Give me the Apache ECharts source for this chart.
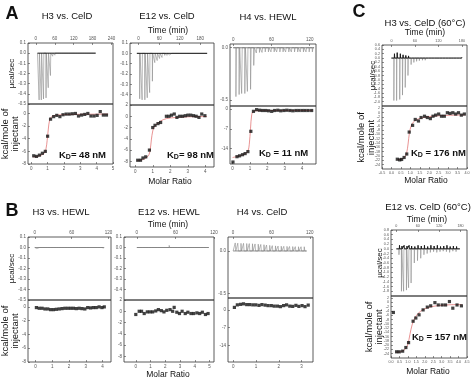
<!DOCTYPE html>
<html><head><meta charset="utf-8">
<script src="https://cdn.jsdelivr.net/npm/echarts@6/dist/echarts.min.js"></script>
<style>html,body{margin:0;padding:0;background:#fff}#c{width:474px;height:378px}</style>
</head><body><div id="c"></div>
<script>
// ---------------- DATA ----------------
// A1: H3 vs. CelD
const a1Time = [10,17,24,32,39,46,53,60,68,75,82,89,96,104,111,118,125,132,140,147,154,161,168,176,183];
const a1Peak = [-0.46,-0.46,-0.45,-0.44,-0.34,-0.22,-0.03,-0.02,-0.015,-0.015,-0.01,-0.01,-0.01,-0.01,-0.01,-0.008,-0.008,-0.008,-0.008,-0.008,-0.008,-0.008,-0.008,-0.008,-0.008];
const a1Base = [5,190];
const a1Ratio = [0.15,0.32,0.5,0.68,0.86,1.0,1.18,1.37,1.56,1.75,1.94,2.13,2.32,2.51,2.7,2.89,3.08,3.27,3.46,3.65,3.84,4.03,4.22,4.41,4.6];
const a1Heat = [-6.7,-6.8,-6.6,-6.3,-6.0,-3.6,-0.9,-0.5,-0.3,-0.5,-0.2,-0.1,-0.1,-0.05,0.0,-0.4,-0.25,-0.15,0.0,-0.4,-0.4,-0.3,0.3,-0.25,-0.25];
const a1FitX = [0.1,0.5,0.8,0.9,0.97,1.05,1.12,1.25,1.6,2.5,4.7];
const a1FitY = [-6.9,-6.7,-6.3,-5.6,-4.3,-2.3,-1.1,-0.5,-0.25,-0.15,-0.1];
// A2: E12 vs. CelD
const a2Time = [3,10,18,25,32,40,47,54,61,68,76,83,90,97,104,112,119,126,133,140,148,155,162,169];
const a2Peak = [-0.44,-0.45,-0.45,-0.43,-0.38,-0.27,-0.09,-0.07,-0.05,-0.04,-0.02,-0.02,-0.015,-0.01,-0.01,-0.01,-0.01,-0.01,-0.01,-0.01,-0.01,-0.01,-0.01,-0.01];
const a2Base = [-5,200];
const a2Ratio = [0.14,0.3,0.44,0.6,0.81,1.0,1.13,1.3,1.45,1.78,1.93,2.07,2.23,2.38,2.54,2.7,2.86,3.01,3.17,3.33,3.48,3.64,3.8,3.98];
const a2Heat = [-7.8,-7.8,-7.4,-7.2,-6.0,-2.0,-1.6,-1.3,-1.1,0.0,0.0,0.2,0.4,-0.2,0.0,0.0,0.1,0.2,0.2,0.1,0.0,-0.2,0.4,0.1];
const a2FitX = [0.1,0.5,0.75,0.85,0.92,1.0,1.1,1.3,1.6,2.0,3.0,4.1];
const a2FitY = [-7.9,-7.6,-7.0,-6.0,-4.2,-2.6,-1.8,-1.2,-0.6,-0.3,-0.1,-0.05];
// A3: H4 vs. HEWL
const a3Time = [4,9,13,18,22,27,32,36,41,45,50,55,59,64,68,73,78,82,87,91,96,101,105,110,114,119,124];
const a3Peak = [-0.47,-0.45,-0.44,-0.44,-0.42,-0.40,-0.17,-0.05,-0.045,-0.045,-0.04,-0.04,-0.04,-0.04,-0.04,-0.04,-0.04,-0.04,-0.04,-0.04,-0.04,-0.04,-0.04,-0.04,-0.04,-0.04,-0.04];
const a3Base = [0,127];
const a3Ratio = [0.02,0.25,0.4,0.57,0.72,0.88,1.05,1.2,1.38,1.55,1.72,1.9,2.07,2.25,2.42,2.6,2.77,2.95,3.12,3.3,3.47,3.65,3.82,4.0,4.17,4.35,4.55];
const a3Heat = [-18.8,-16.9,-16.6,-16.2,-15.8,-15.1,-7.9,-0.8,-0.2,-0.4,-0.5,-0.5,-0.6,-0.8,-0.5,-0.4,-0.6,-0.5,-0.4,-0.5,-0.6,-0.5,-0.5,-0.5,-0.5,-0.5,-0.5];
const a3FitX = [0,0.4,0.75,0.88,0.96,1.03,1.1,1.2,1.5,4.6];
const a3FitY = [-17.2,-16.6,-15.8,-15.0,-12.5,-7,-2,-0.8,-0.55,-0.5];
// B1: H3 vs. HEWL
const b1Time = [3,8,12,17,21,26,30,35,39,44,48,53,57,62,66,71,75,80,84,89,93,98,102,107,111];
const b1Peak = [-0.01,-0.01,-0.01,-0.01,-0.01,-0.01,-0.01,-0.01,-0.01,-0.01,-0.01,-0.01,-0.01,-0.01,-0.01,-0.01,-0.01,-0.01,-0.01,-0.01,-0.01,-0.01,-0.01,-0.01,-0.01];
const b1Base = [0,113];
const b1Ratio = [0.05,0.22,0.39,0.56,0.73,0.9,1.07,1.24,1.41,1.58,1.75,1.92,2.09,2.26,2.43,2.6,2.77,2.94,3.11,3.28,3.45,3.62,3.79,3.96,4.1];
const b1Heat = [-0.1,-0.2,-0.2,-0.3,-0.3,-0.4,-0.4,-0.35,-0.3,-0.25,-0.2,-0.2,-0.2,-0.2,-0.25,-0.2,-0.25,-0.3,-0.1,-0.15,-0.1,-0.1,0.0,-0.1,0.0];
// B2: E12 vs. HEWL
const b2Time = [5,9,14,18,23,27,32,36,41,45,50,54,59,63,68,72,77,81,86,90,95,99,104,108];
const b2Peak = [0.015,0.016,0.018,0.016,0.015,0.018,0.016,0.016,0.017,0.018,0.02,0.016,0.008,0.005,0.004,0.004,0.003,0.003,0.003,0.003,0.003,0.003,0.003,0.003];
const b2Base = [0,112];
const b2Ratio = [0.0,0.23,0.39,0.57,0.78,0.96,1.14,1.35,1.53,1.73,1.91,2.1,2.32,2.5,2.6,2.78,2.96,3.14,3.35,3.53,3.74,3.92,4.14,4.33,4.51,4.72,4.9];
const b2Heat = [-0.57,0,0,-0.4,-0.11,-0.11,-0.11,0.06,0.29,0.11,-0.11,0.17,0.29,0,0.69,-0.17,-0.4,0,-0.4,-0.17,-0.4,-0.4,-0.29,-0.4,-0.17,-0.57,-0.4];
// B3: H4 vs. CelD
const b3Time = [3,7,12,16,21,25,30,34,39,43,48,52,57,61,66,70,75,79,84,88,93,97,102,106,111];
const b3Peak = [0.095,0.092,0.09,0.09,0.088,0.087,0.085,0.083,0.08,0.077,0.074,0.07,0.066,0.063,0.06,0.058,0.056,0.055,0.054,0.053,0.052,0.051,0.05,0.05,0.05];
const b3Base = [0,115];
const b3Ratio = [0.05,0.18,0.32,0.45,0.59,0.72,0.86,0.99,1.13,1.26,1.4,1.53,1.67,1.8,1.94,2.07,2.21,2.34,2.48,2.61,2.75,2.88,3.02,3.15,3.29];
const b3Heat = [1.0,2.0,2.2,2.4,2.1,2.1,2.0,2.0,1.8,2.1,1.9,1.7,1.7,1.5,1.5,1.3,1.7,2.0,1.5,1.4,1.8,1.4,1.7,1.3,1.9];
// C1: H3 vs. CelD (60°C)
const c1Time = [6,13,21,28,35,42,50,57,64,71,79,86,93,100,108,115,122,129,137,144,151,158,165,172,178];
const c1Peak = [-1.95,-1.95,-1.9,-1.7,-1.35,-0.8,-0.3,-0.2,-0.15,-0.12,-0.1,-0.1,-0.08,-0.08,-0.06,-0.06,-0.05,-0.05,-0.05,-0.05,-0.05,-0.05,-0.05,-0.05,-0.05];
const c1Up = [0.2,0.25,0.2,0.15,0.12,0.1,0.08,0.08,0.06,0.05,0.05,0.05,0.05,0.04,0.04,0.04,0.04,0.04,0.04,0.04,0.04,0.04,0.04,0.04,0.04];
const c1Base = [0,180];
const c1Ratio = [0.31,0.44,0.54,0.67,0.81,0.94,1.12,1.26,1.43,1.57,1.75,1.9,2.06,2.2,2.34,2.5,2.65,2.8,2.96,3.1,3.25,3.4,3.55,3.7,3.86];
const c1Heat = [-21.5,-21.8,-21.6,-20.7,-19.1,-9.0,-5.9,-3.2,-3.9,-2.3,-1.7,-2.3,-2.8,-1.7,-1.2,-0.7,-1.7,-1.7,-0.1,-0.4,-0.1,-0.7,-0.1,-1.2,-0.7];
const c1FitX = [0.3,0.55,0.7,0.8,0.88,0.95,1.03,1.15,1.35,1.7,2.3,3.0,3.9];
const c1FitY = [-21.7,-21.4,-20.6,-18.8,-14.5,-9.5,-6.5,-4.5,-3.2,-2.3,-1.6,-1.3,-1.1];
// C2: E12 vs. CelD (60°C)
const c2Time = [7,14,20,28,34,41,50,59,68,77,86,95,104,113,122,131,140,149,158,167];
const c2Peak = [-0.25,-1.8,-1.8,-1.75,-1.65,-1.45,-0.6,-0.5,-0.4,-0.25,-0.2,-0.15,-0.12,-0.15,-0.12,-0.1,-0.12,-0.15,-0.1,-0.12];
const c2Up = [0.15,0.12,0.15,0.12,0.15,0.12,0.1,0.15,0.12,0.15,0.1,0.15,0.12,0.15,0.1,0.12,0.15,0.1,0.12,0.1];
const c2Base = [0,178];
const c2Ratio = [0.14,0.33,0.49,0.69,0.88,1.04,1.31,1.47,1.66,1.9,2.15,2.35,2.6,2.8,3.03,3.23,3.46,3.66,3.91,4.17];
const c2Heat = [-4.7,-23.1,-23.1,-22.8,-21.1,-18.8,-8.8,-7.3,-5.8,-3.5,-2.2,-1.6,-0.1,-1.2,-1.2,-1.2,0.4,-2.7,-1.2,-1.6];
const c2FitX = [0.3,0.6,0.85,1.0,1.12,1.25,1.4,1.6,1.9,2.3,2.8,3.5,4.2];
const c2FitY = [-23.3,-23.0,-21.8,-19.5,-15,-10.5,-7.5,-5.2,-3.4,-2.2,-1.5,-1.1,-1.0];

// tick labels
const timeTicks240 = [0,60,120,180,240];
const timeTicks180 = [0,60,120,180];
const timeTicks120 = [0,60,120];
const rawTicksA = [0.1,0.0,-0.1,-0.2,-0.3,-0.4,-0.5];
const rawTicksA2 = [0.1,0.0,-0.1,-0.2,-0.3,-0.4];
const rawTicksH4 = [0.0,-0.5];
const rawTicksC1 = [0.6,0.4,0.2,0.0,-0.2,-0.4,-0.6,-0.8,-1.0,-1.2,-1.4,-1.6,-1.8,-2.0];
const rawTicksC2 = [0.8,0.6,0.4,0.2,0.0,-0.2,-0.4,-0.6,-0.8,-1.0,-1.2,-1.4,-1.6,-1.8];
const ratioTicks5 = [0,1,2,3,4,5];
const ratioTicks4 = [0,1,2,3,4];
const ratioTicks3 = [0,1,2,3];
const ratioTicksC1 = [-0.5,0.0,0.5,1.0,1.5,2.0,2.5,3.0,3.5,4.0];
const ratioTicksC2 = [0.0,0.5,1.0,1.5,2.0,2.5,3.0,3.5,4.0,4.5];
const heatTicks8 = [0,-2,-4,-6,-8];
const heatTicks8b = [2,0,-2,-4,-6,-8];
const heatTicks14 = [0,-7,-14];
const heatTicksC = [2,0,-2,-4,-6,-8,-10,-12,-14,-16,-18,-20,-22,-24];

// ---------------- BUILD ----------------
const FONT = '"Liberation Sans", Arial, Helvetica, sans-serif';
const grid = [], xAxis = [], yAxis = [], series = [], title = [];

function axis(gi, pos, range, ticks, dec, fs, extra) {
  return Object.assign({
    type: 'value', gridIndex: gi, position: pos, min: range[0], max: range[1],
    axisLine: { show: false, onZero: false },
    splitLine: { show: false },
    axisTick: { show: true, inside: true, length: 2, customValues: ticks, lineStyle: { color: '#444', width: 0.6 } },
    axisLabel: { show: true, customValues: ticks, fontSize: fs, color: '#555', margin: 2, fontFamily: FONT,
      formatter: v => dec ? Number(v).toFixed(dec) : String(Math.round(v)) }
  }, extra || {});
}
function zip(xs, ys) { return xs.map((x, i) => [x, ys[i]]); }
function spikes(times, peaks, base) {
  const d = [[base[0], 0]];
  times.forEach((t, i) => { d.push([t, 0], [t + 0.3, peaks[i]], [t + 1.2, 0]); });
  d.push([base[1], 0]);
  return d;
}
function baseline(times, ups, base) {
  const d = [[base[0], 0]];
  if (ups) times.forEach((t, i) => { d.push([t + 1.4, 0], [t + 1.8, ups[i]], [t + 2.4, 0]); });
  d.push([base[1], 0]);
  return d;
}

function addPanel(p) {
  const [L, R, T, M, B] = p.box;
  const fs = p.fs || 4.5;
  const gi = grid.length;
  const gs = { show: true, borderColor: '#333', borderWidth: 0.8, backgroundColor: 'transparent', containLabel: false, outerBoundsMode: 'none' };
  grid.push(Object.assign({ left: L, top: T, width: R - L, height: M - T }, gs));
  grid.push(Object.assign({ left: L, top: M, width: R - L, height: B - M }, gs));
  xAxis.push(axis(gi, 'top', p.time, p.timeTicks, 0, fs));
  yAxis.push(axis(gi, 'left', p.raw, p.rawTicks, p.rawDec, fs, p.yTopName ? {
    name: p.yTopName, nameLocation: 'middle', nameRotate: 90, nameGap: p.gapTop, nameMoveOverlap: false,
    nameTextStyle: { fontSize: 8, color: '#111', fontFamily: FONT } } : {}));
  xAxis.push(axis(gi + 1, 'bottom', p.ratio, p.ratioTicks, p.ratioDec, fs));
  yAxis.push(axis(gi + 1, 'left', p.heat, p.heatTicks, 0, fs, p.yBotName ? {
    name: p.yBotName, nameLocation: 'middle', nameRotate: 90, nameGap: p.gapBot, nameMoveOverlap: false,
    nameTextStyle: { fontSize: 9.5, lineHeight: 10, color: '#111', fontFamily: FONT } } : {}));
  series.push({ type: 'line', xAxisIndex: gi, yAxisIndex: gi, data: spikes(p.times, p.peaks, p.base),
    symbol: 'none', lineStyle: { color: '#8c8c8c', width: 0.6 }, silent: true, z: 2 });
  series.push({ type: 'line', xAxisIndex: gi, yAxisIndex: gi, data: baseline(p.times, p.ups, p.base),
    symbol: 'none', lineStyle: { color: p.baseColor || '#1a1a1a', width: p.baseWidth || 1 }, silent: true, z: 3 });
  if (p.fitX) series.push({ type: 'line', xAxisIndex: gi + 1, yAxisIndex: gi + 1, data: zip(p.fitX, p.fitY),
    symbol: 'none', smooth: 0.35, lineStyle: { color: '#e06666', width: 0.7 }, silent: true, z: 3 });
  series.push({ type: 'scatter', xAxisIndex: gi + 1, yAxisIndex: gi + 1, data: zip(p.ratioX, p.heatY),
    symbol: 'rect', symbolSize: 3.2, itemStyle: { color: '#111' }, silent: true, z: 4 });
}

addPanel({ box: [28,113,43,104,164], time: [-25,245], timeTicks: timeTicks240, raw: [-0.5,0.1], rawTicks: rawTicksA, rawDec: 1,
  ratio: [-0.2,5.0], ratioTicks: ratioTicks5, heat: [-8,1.5], heatTicks: heatTicks8,
  times: a1Time, peaks: a1Peak, base: a1Base, ratioX: a1Ratio, heatY: a1Heat, fitX: a1FitX, fitY: a1FitY,
  yTopName: 'µcal/sec', gapTop: 12, yBotName: 'kcal/mole of\ninjectant', gapBot: 8 });
addPanel({ box: [130,214,43,105,167], time: [-25,220], timeTicks: timeTicks180, raw: [-0.5,0.1], rawTicks: rawTicksA2, rawDec: 1,
  ratio: [-0.3,4.5], ratioTicks: ratioTicks4, heat: [-9,2], heatTicks: heatTicks8b,
  times: a2Time, peaks: a2Peak, base: a2Base, ratioX: a2Ratio, heatY: a2Heat, fitX: a2FitX, fitY: a2FitY });
addPanel({ box: [230,316,44,106,164], time: [-5,130], timeTicks: timeTicks120, raw: [-0.56,0.036], rawTicks: rawTicksH4, rawDec: 1,
  ratio: [-0.15,4.8], ratioTicks: ratioTicks4, heat: [-19.5,1.1], heatTicks: heatTicks14,
  times: a3Time, peaks: a3Peak, base: a3Base, ratioX: a3Ratio, heatY: a3Heat, fitX: a3FitX, fitY: a3FitY,
  baseColor: '#666', baseWidth: 0.8 });
addPanel({ box: [28,111,237,300,362], time: [-11,124], timeTicks: timeTicks120, raw: [-0.5,0.1], rawTicks: rawTicksA, rawDec: 1,
  ratio: [-0.45,4.5], ratioTicks: ratioTicks4, heat: [-8,1], heatTicks: heatTicks8,
  times: b1Time, peaks: b1Peak, base: b1Base, ratioX: b1Ratio, heatY: b1Heat,
  baseColor: '#777', baseWidth: 0.8,
  yTopName: 'µcal/sec', gapTop: 12, yBotName: 'kcal/mole of\ninjectant', gapBot: 8 });
addPanel({ box: [124,214,237,300,362], time: [-20,120], timeTicks: timeTicks120, raw: [-0.5,0.1], rawTicks: rawTicksA2, rawDec: 1,
  ratio: [-0.8,5.3], ratioTicks: ratioTicks5, heat: [-9,2], heatTicks: heatTicks8b,
  times: b2Time, peaks: b2Peak, base: b2Base, ratioX: b2Ratio, heatY: b2Heat,
  baseColor: '#777', baseWidth: 0.8 });
addPanel({ box: [228,313,237,298,362], time: [-8,125], timeTicks: timeTicks120, raw: [-0.555,0.165], rawTicks: rawTicksH4, rawDec: 1,
  ratio: [-0.23,3.5], ratioTicks: ratioTicks3, heat: [-20.5,4.7], heatTicks: heatTicks14,
  times: b3Time, peaks: b3Peak, base: b3Base, ratioX: b3Ratio, heatY: b3Heat,
  baseColor: '#777', baseWidth: 0.8 });
addPanel({ box: [382,467,45,106,169], fs: 3.7, time: [-24,193], timeTicks: timeTicks180, raw: [-2.2,0.6], rawTicks: rawTicksC1, rawDec: 1,
  ratio: [-0.5,4.0], ratioTicks: ratioTicksC1, ratioDec: 1, heat: [-26,3], heatTicks: heatTicksC,
  times: c1Time, peaks: c1Peak, ups: c1Up, base: c1Base, ratioX: c1Ratio, heatY: c1Heat, fitX: c1FitX, fitY: c1FitY,
  yTopName: 'µcal/sec', gapTop: 5, yBotName: 'kcal/mole of\ninjectant', gapBot: 6 });
addPanel({ box: [391,467,230,296,358], fs: 3.7, time: [-15,198], timeTicks: timeTicks180, raw: [-2.0,0.8], rawTicks: rawTicksC2, rawDec: 1,
  ratio: [0,4.5], ratioTicks: ratioTicksC2, ratioDec: 1, heat: [-26,3], heatTicks: heatTicksC,
  times: c2Time, peaks: c2Peak, ups: c2Up, base: c2Base, ratioX: c2Ratio, heatY: c2Heat, fitX: c2FitX, fitY: c2FitY,
  yTopName: 'µcal/sec', gapTop: 7, yBotName: 'kcal/mole of\ninjectant', gapBot: 7 });

function txt(text, cx, cy, size, bold) {
  title.push({ text, left: cx, top: cy, textAlign: 'center', textVerticalAlign: 'middle', padding: 0,
    textStyle: { fontSize: size, fontWeight: bold ? 'bold' : 'normal', color: '#111', fontFamily: FONT } });
}
txt('A', 12, 14, 18, true);
txt('B', 12, 211, 18, true);
txt('C', 359, 12, 18, true);
txt('H3 vs. CelD', 67, 16, 9.5);
txt('E12 vs. CelD', 167, 16, 9.5);
txt('H4 vs. HEWL', 268, 17, 9.5);
txt('Time (min)', 168, 31, 8.5);
txt('Molar Ratio', 170, 182, 8.5);
txt('H3 vs. HEWL', 61, 212, 9.5);
txt('E12 vs. HEWL', 169, 212, 9.5);
txt('H4 vs. CelD', 262, 212, 9.5);
txt('Time (min)', 168, 225, 8.5);
txt('Molar Ratio', 168, 375, 8.5);
txt('H3 vs. CelD (60°C)', 425, 23, 9.5);
txt('Time (min)', 425, 33, 8.5);
txt('Molar Ratio', 426, 181, 8.5);
txt('E12 vs. CelD (60°C)', 428, 207, 9.5);
txt('Time (min)', 427, 220, 8.5);
txt('Molar Ratio', 428, 372, 8.5);

function kd(rest, x, y) {
  title.push({ text: '{k|K}{d|D}{k|' + rest + '}', left: x, top: y, padding: 0,
    textStyle: { rich: {
      k: { fontSize: 9.5, lineHeight: 12, color: '#111', fontFamily: FONT },
      d: { fontSize: 7, lineHeight: 7, verticalAlign: 'bottom', color: '#111', fontFamily: FONT } } } });
}
kd('= 48 nM', 59, 149);
kd('= 98 nM', 167, 149);
kd(' = 11 nM', 259, 147);
kd(' = 176 nM', 411, 147);
kd(' = 157 nM', 412, 331);

const chart = echarts.init(document.getElementById('c'), null, { renderer: 'canvas' });
chart.setOption({ animation: false, backgroundColor: '#fff', title, grid, xAxis, yAxis, series });
</script></body></html>
